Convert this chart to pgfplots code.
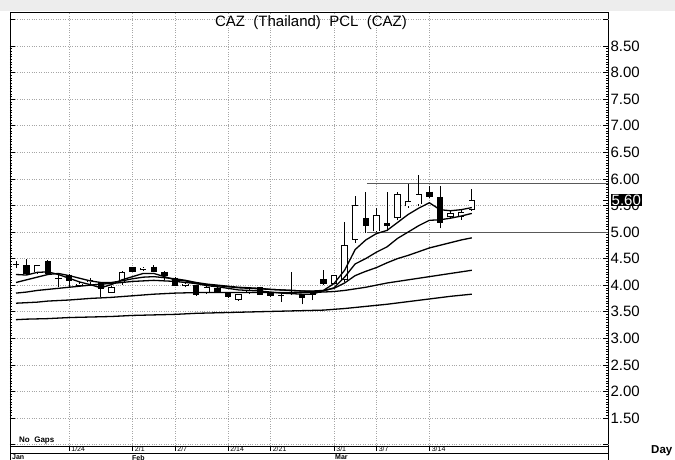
\documentclass[border=0pt]{standalone}
\usepackage{pgfplots}
\pgfplotsset{compat=1.18}
\usepackage{fontspec}
\setmainfont{Liberation Sans}

% candle helpers: #1 index, #2 open, #3 high, #4 low, #5 close
\newcommand{\dn}[5]{%
  \addplot[black, line width=0.8pt] coordinates {(#1,#4) (#1,#3)};
  \addplot[black, line width=6.4pt] coordinates {(#1,#2) (#1,#5)};
}
\newcommand{\up}[5]{%
  \addplot[black, line width=0.8pt] coordinates {(#1,#4) (#1,#3)};
  \addplot[black, line width=6.4pt] coordinates {(#1,#2) (#1,#5)};
  \addplot[white, line width=4.8pt, shorten <=0.8pt, shorten >=0.8pt] coordinates {(#1,#2) (#1,#5)};
}

\begin{document}
\begin{tikzpicture}
\path[use as bounding box] (0pt,0pt) rectangle (675pt,460pt);
\fill[white] (0pt,0pt) rectangle (675pt,460pt);
\fill[black!7] (0pt,449pt) rectangle (675pt,460pt);
\begin{axis}[
  at={(10pt,14pt)}, anchor=south west,
  scale only axis, width=598pt, height=434pt,
  xmin=-5.566, xmax=50.85, ymin=0.973, ymax=9.14,
  axis line style={black, line width=0.9pt},
  xtick={0,6,10,15,19,25,29,34},
  xticklabels={1/24,2/1,2/7,2/14,2/21,3/1,3/7,3/14},
  xtick pos=bottom, xtick align=outside,
  major x tick style={black, line width=0.6pt},
  x tick label style={font=\fontsize{7}{7}\selectfont, anchor=north west, inner sep=0.6pt, xshift=1.6pt, yshift=5pt},
  ytick={1.5,2,...,8.5},
  extra y ticks={1,9}, extra y tick labels={},
  extra y tick style={grid=major},
  ytick pos=both, ytick align=inside,
  minor y tick num=9,
  major tick length=5pt, minor tick length=2pt,
  y tick style={black, line width=0.5pt},
  yticklabel pos=right,
  yticklabel style={font=\fontsize{15}{15}\selectfont, anchor=west, xshift=-1pt},
  /pgf/number format/.cd, fixed, fixed zerofill, precision=2, assume math mode=true,
  /pgfplots/.cd,
  xmajorgrids, ymajorgrids,
  grid style={gray!70, line width=0.5pt, dash pattern=on 0.8pt off 1.6pt},
  clip=true,
]
% resistance / support
\addplot[black!65, line width=0.8pt] coordinates {(28.1,5.92) (50.85,5.92)};
\addplot[black!65, line width=0.8pt] coordinates {(28.1,5.00) (50.85,5.00)};

% candles
\dn{-5}{4.40}{4.45}{4.33}{4.37}
\dn{-4}{4.37}{4.50}{4.20}{4.21}
\up{-3}{4.24}{4.38}{4.21}{4.37}
\dn{-2}{4.45}{4.48}{4.20}{4.21}
\dn{-1}{4.14}{4.22}{3.96}{4.12}
\dn{0}{4.20}{4.21}{3.94}{4.08}
\up{1}{3.99}{4.05}{3.98}{4.03}
\up{2}{4.05}{4.14}{4.03}{4.09}
\dn{3}{4.05}{4.06}{3.78}{3.92}
\up{4}{3.86}{3.98}{3.85}{3.97}
\up{5}{4.05}{4.26}{4.00}{4.25}
\dn{6}{4.34}{4.35}{4.24}{4.25}
\up{7}{4.28}{4.35}{4.27}{4.33}
\dn{8}{4.35}{4.37}{4.24}{4.25}
\dn{9}{4.25}{4.26}{4.10}{4.17}
\dn{10}{4.14}{4.15}{3.98}{3.99}
\up{11}{3.98}{4.05}{3.96}{4.03}
\dn{12}{4.00}{4.01}{3.80}{3.82}
\up{13}{3.85}{3.98}{3.84}{3.97}
\dn{14}{3.95}{3.96}{3.86}{3.88}
\dn{15}{3.85}{3.86}{3.76}{3.77}
\up{16}{3.72}{3.84}{3.71}{3.83}
\up{17}{3.86}{3.93}{3.84}{3.91}
\dn{18}{3.96}{3.97}{3.81}{3.82}
\dn{19}{3.85}{3.86}{3.77}{3.79}
\dn{20}{3.82}{3.83}{3.69}{3.80}
\dn{21}{3.88}{4.25}{3.82}{3.83}
\dn{22}{3.83}{3.84}{3.64}{3.75}
\dn{23}{3.86}{3.87}{3.72}{3.82}
\dn{24}{4.12}{4.29}{4.01}{4.02}
\up{25}{4.03}{4.20}{4.02}{4.19}
\up{26}{4.10}{5.19}{4.05}{4.76}
\up{27}{4.85}{5.68}{4.80}{5.51}
\dn{28}{5.26}{5.76}{4.98}{5.11}
\up{29}{5.01}{5.46}{5.00}{5.32}
\dn{30}{5.17}{5.76}{5.01}{5.12}
\up{31}{5.26}{5.75}{5.22}{5.71}
\up{32}{5.48}{5.90}{5.46}{5.58}
\up{33}{5.52}{6.07}{5.48}{5.72}
\dn{34}{5.76}{5.87}{5.64}{5.66}
\dn{35}{5.66}{5.87}{5.07}{5.16}
\up{36}{5.28}{5.41}{5.27}{5.36}
\up{37}{5.28}{5.44}{5.23}{5.37}
\up{38}{5.41}{5.81}{5.40}{5.60}

% moving averages
\addplot[black, line width=1.3pt] coordinates {
(-5,4.20)(-4,4.19)(-3,4.24)(-2,4.25)(-1,4.20)(0,4.13)(1,4.06)(2,4.01)(3,3.95)(4,4.01)
(5,4.10)(6,4.16)(7,4.22)(8,4.22)(9,4.16)(10,4.10)(11,4.08)(12,4.03)(13,3.99)(14,3.97)
(15,3.94)(16,3.91)(17,3.90)(18,3.89)(19,3.87)(20,3.85)(21,3.84)(22,3.83)(23,3.83)(24,3.90)
(25,4.03)(26,4.28)(27,4.67)(28,4.85)(29,4.97)(30,5.03)(31,5.18)(32,5.33)(33,5.45)(34,5.55)
(35,5.42)(36,5.40)(37,5.42)(38,5.46)};
\addplot[black, line width=1.3pt] coordinates {
(-5,4.05)(-4,4.10)(-3,4.15)(-2,4.20)(-1,4.22)(0,4.18)(1,4.13)(2,4.08)(3,4.05)(4,4.05)
(5,4.08)(6,4.12)(7,4.15)(8,4.16)(9,4.14)(10,4.12)(11,4.09)(12,4.05)(13,4.02)(14,4.00)
(15,3.98)(16,3.96)(17,3.95)(18,3.94)(19,3.92)(20,3.91)(21,3.90)(22,3.89)(23,3.88)(24,3.89)
(25,3.95)(26,4.15)(27,4.40)(28,4.50)(29,4.62)(30,4.72)(31,4.88)(32,5.00)(33,5.12)(34,5.22)
(35,5.23)(36,5.26)(37,5.30)(38,5.35)};
\addplot[black, line width=1.3pt] coordinates {
(-5,3.85)(-4,3.87)(-3,3.90)(-2,3.92)(-1,3.94)(0,3.96)(1,3.98)(2,4.00)(3,4.02)(4,4.03)
(5,4.05)(6,4.07)(7,4.08)(8,4.09)(9,4.08)(10,4.07)(11,4.05)(12,4.03)(13,4.01)(14,3.99)
(15,3.97)(16,3.95)(17,3.94)(18,3.93)(19,3.92)(20,3.91)(21,3.90)(22,3.89)(23,3.89)(24,3.90)
(25,3.94)(26,4.04)(27,4.18)(28,4.26)(29,4.33)(30,4.42)(31,4.50)(32,4.56)(33,4.63)(34,4.70)
(35,4.75)(36,4.80)(37,4.85)(38,4.89)};
\addplot[black, line width=1.3pt] coordinates {
(-5,3.66)(-4,3.67)(-3,3.68)(-2,3.70)(-1,3.71)(0,3.72)(2,3.75)(4,3.77)(6,3.80)(8,3.83)
(10,3.85)(12,3.86)(14,3.86)(16,3.86)(18,3.86)(20,3.86)(22,3.86)(24,3.87)(25,3.88)(26,3.90)
(27,3.93)(28,3.96)(29,4.00)(30,4.04)(31,4.07)(32,4.10)(33,4.13)(34,4.16)(35,4.19)(36,4.22)
(37,4.25)(38,4.28)};
\addplot[black, line width=1.3pt] coordinates {
(-5,3.35)(-4,3.36)(-2,3.37)(0,3.39)(2,3.40)(4,3.41)(6,3.43)(8,3.44)(10,3.45)(12,3.47)
(14,3.48)(16,3.49)(18,3.50)(20,3.51)(22,3.52)(24,3.53)(26,3.56)(28,3.60)(30,3.64)(32,3.69)
(34,3.74)(36,3.79)(38,3.83)};

% date strip separators
\pgfplotsinvokeforeach{0,6,10,15,19,25,29,34}{
  \draw[black, line width=0.6pt] (axis cs:#1,0.973) -- ++(0pt,-7.7pt);
}
\end{axis}

% title and annotations
\node[anchor=base, font=\fontsize{15}{15}\selectfont, inner sep=0pt] at (311pt,433.3pt)
  {CAZ\ \ (Thailand)\ \ PCL\ \ (CAZ)};
\node[anchor=base west, font=\fontsize{8}{8}\selectfont\bfseries, inner sep=0pt] at (19pt,17.5pt) {No\ \ Gaps};
\node[anchor=west, fill=black, text=white, inner sep=1pt, font=\fontsize{15}{15}\selectfont] at (610.5pt,260pt) {5.60};
\draw[black, line width=0.8pt] (603pt,260pt) -- (609pt,260pt);
% date strip
\draw[black, line width=0.8pt] (10pt,6.3pt) -- (608pt,6.3pt);
\draw[black, line width=0.8pt] (10pt,0pt) -- (10pt,14pt);
\draw[black, line width=0.8pt] (608pt,0pt) -- (608pt,14pt);
\node[anchor=north west, inner sep=0pt, font=\fontsize{7}{7}\selectfont\bfseries] at (12pt,5.2pt) {Jan};
\node[anchor=north west, inner sep=0pt, font=\fontsize{7}{7}\selectfont\bfseries] at (132pt,5.2pt) {Feb};
\node[anchor=north west, inner sep=0pt, font=\fontsize{7}{7}\selectfont\bfseries] at (335pt,5.2pt) {Mar};
\node[anchor=west, inner sep=0pt, font=\fontsize{11.5}{11.5}\selectfont\bfseries] at (651pt,9pt) {Day};
\end{tikzpicture}
\end{document}
